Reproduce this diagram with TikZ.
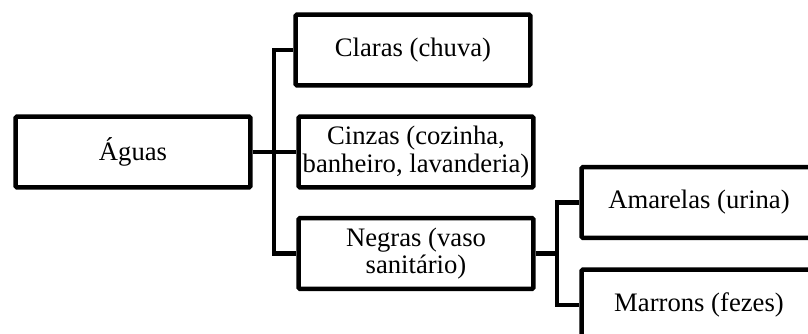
\documentclass[tikz,border=0pt]{standalone}
\usepackage{fontspec}
\setmainfont{Liberation Serif}
\tikzset{
  box/.style={draw,line width=3.4pt,rounded corners=1pt,minimum width=176pt,minimum height=53pt,
    inner sep=1pt,align=center,font=\fontsize{20}{20.5}\selectfont},
  link/.style={line width=3.4pt}
}
\begin{document}
\begin{tikzpicture}[x=0.75pt,y=-0.75pt]
      \useasboundingbox (0,0) rectangle (808,333);
      \clip (0,0) rectangle (808,333);
      \node[box] (aguas) at (133,152) {Águas};
      \node[box] (claras) at (413,50) {Claras (chuva)};
      \node[box] (cinzas) at (416,152) {Cinzas (cozinha,\\banheiro, lavanderia)};
      \node[box] (negras) at (416,253.5) {Negras (vaso\\sanitário)};
      \node[box] (amarelas) at (699,202.5) {Amarelas (urina)};
      \node[box] (marrons) at (699,305) {Marrons (fezes)};
      \coordinate (j1) at (274,152);
      \coordinate (j2) at (557,253.5);
      \draw[link] (aguas) -- (cinzas);
      \draw[link] (claras.west) -| (j1) |- (negras.west);
      \draw[link] (negras) -- (j2);
      \draw[link] (amarelas.west) -| (j2) |- (marrons.west);
    \end{tikzpicture}
\end{document}
